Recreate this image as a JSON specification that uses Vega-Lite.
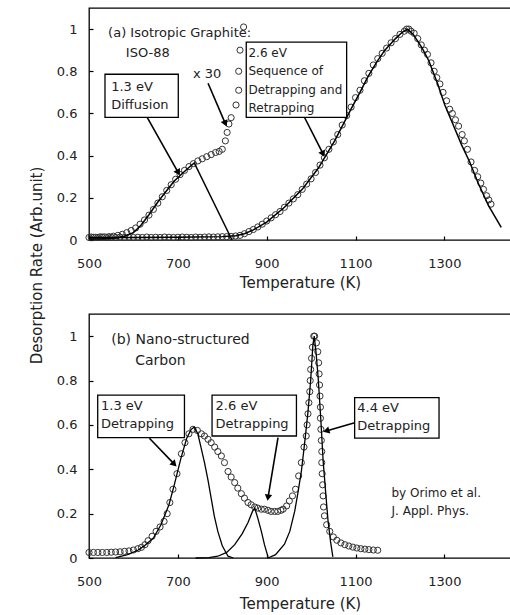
{
  "$schema": "https://vega.github.io/schema/vega-lite/v6.json",
  "padding": {"left": 28, "top": 7, "right": 0, "bottom": 0},
  "background": "white",
  "spacing": 74,
  "bounds": "flush",
  "config": {
    "font": "DejaVu Sans",
    "view": {"stroke": "#000", "strokeWidth": 1.3},
    "axis": {"grid": false, "domain": false, "tickSize": -4, "tickColor": "#000", "tickWidth": 1.2, "labelFlush": false,
      "labelFont": "DejaVu Sans", "labelFontSize": 13, "labelColor": "#222",
      "titleFont": "DejaVu Sans", "titleFontSize": 15, "titleFontWeight": "normal", "titleColor": "#222"},
    "axisX": {"labelPadding": 21, "titlePadding": 5},
    "axisY": {"labelPadding": 16}
  },
  "vconcat": [
    {
      "width": 422,
      "height": 232,
      "encoding": {
        "x": {"field": "T", "type": "quantitative", "scale": {"domain": [500, 1450], "nice": false, "zero": false},
          "axis": {"values": [500, 700, 900, 1100, 1300], "format": "d", "title": "Temperature (K)"}},
        "y": {"field": "rate", "type": "quantitative", "scale": {"domain": [0, 1.1], "nice": false},
          "axis": {"values": [0, 0.2, 0.4, 0.6, 0.8, 1], "format": "~g", "title": "Desorption Rate (Arb.unit)", "titleX": -45, "titleY": 257}}
      },
      "layer": [
        {
          "data": {"values": [
            {"T":500,"rate":0.012},{"T":510,"rate":0.013},{"T":520,"rate":0.012},{"T":530,"rate":0.014},{"T":540,"rate":0.012},{"T":550,"rate":0.013},{"T":560,"rate":0.012},{"T":570,"rate":0.014},{"T":580,"rate":0.012},{"T":590,"rate":0.013},{"T":600,"rate":0.012},{"T":610,"rate":0.013},{"T":620,"rate":0.012},{"T":630,"rate":0.014},{"T":640,"rate":0.012},{"T":650,"rate":0.013},{"T":660,"rate":0.012},{"T":670,"rate":0.014},{"T":680,"rate":0.013},{"T":690,"rate":0.012},{"T":700,"rate":0.013},{"T":710,"rate":0.014},{"T":720,"rate":0.013},{"T":730,"rate":0.012},{"T":740,"rate":0.014},{"T":750,"rate":0.013},{"T":760,"rate":0.014},{"T":770,"rate":0.015},{"T":780,"rate":0.014},{"T":790,"rate":0.015},{"T":800,"rate":0.016},{"T":810,"rate":0.016},{"T":820,"rate":0.017},{"T":830,"rate":0.019},
            {"T":840,"rate":0.022},{"T":850,"rate":0.03},{"T":860,"rate":0.04},{"T":870,"rate":0.05},{"T":880,"rate":0.062},{"T":890,"rate":0.075},{"T":900,"rate":0.09},{"T":910,"rate":0.105},{"T":920,"rate":0.12},{"T":930,"rate":0.135},{"T":940,"rate":0.155},{"T":950,"rate":0.175},{"T":960,"rate":0.195},{"T":970,"rate":0.215},{"T":980,"rate":0.24},{"T":990,"rate":0.265},{"T":1000,"rate":0.29},{"T":1010,"rate":0.32},{"T":1020,"rate":0.355},{"T":1030,"rate":0.39},{"T":1040,"rate":0.43},{"T":1050,"rate":0.465},{"T":1060,"rate":0.5},{"T":1070,"rate":0.545},{"T":1080,"rate":0.59},{"T":1090,"rate":0.63},{"T":1100,"rate":0.675},{"T":1110,"rate":0.71},{"T":1120,"rate":0.755},{"T":1130,"rate":0.79},{"T":1140,"rate":0.83},{"T":1150,"rate":0.86},{"T":1160,"rate":0.885},{"T":1170,"rate":0.91},{"T":1180,"rate":0.935},{"T":1190,"rate":0.955},{"T":1200,"rate":0.975},{"T":1210,"rate":0.99},{"T":1215,"rate":1.0},{"T":1220,"rate":1.0},{"T":1225,"rate":0.99},{"T":1232,"rate":0.98},{"T":1240,"rate":0.955},{"T":1248,"rate":0.925},{"T":1255,"rate":0.9},{"T":1262,"rate":0.88},{"T":1270,"rate":0.84},{"T":1277,"rate":0.8},{"T":1283,"rate":0.77},{"T":1290,"rate":0.74},{"T":1297,"rate":0.7},{"T":1305,"rate":0.66},{"T":1312,"rate":0.62},{"T":1318,"rate":0.6},{"T":1325,"rate":0.57},{"T":1332,"rate":0.54},{"T":1340,"rate":0.5},{"T":1345,"rate":0.47},{"T":1352,"rate":0.43},{"T":1360,"rate":0.37},{"T":1368,"rate":0.33},{"T":1375,"rate":0.3},{"T":1382,"rate":0.27},{"T":1388,"rate":0.24},{"T":1395,"rate":0.21},{"T":1400,"rate":0.19},{"T":1405,"rate":0.17},
            {"T":505,"rate":0.014},{"T":515,"rate":0.013},{"T":525,"rate":0.015},{"T":535,"rate":0.015},{"T":545,"rate":0.016},{"T":555,"rate":0.018},{"T":565,"rate":0.022},{"T":575,"rate":0.027},{"T":585,"rate":0.035},{"T":595,"rate":0.045},{"T":605,"rate":0.057},{"T":615,"rate":0.075},{"T":625,"rate":0.095},{"T":635,"rate":0.118},{"T":645,"rate":0.145},{"T":655,"rate":0.175},{"T":665,"rate":0.205},{"T":675,"rate":0.235},{"T":685,"rate":0.262},{"T":695,"rate":0.288},{"T":705,"rate":0.31},{"T":715,"rate":0.33},{"T":725,"rate":0.348},{"T":735,"rate":0.362},{"T":745,"rate":0.375},{"T":755,"rate":0.385},{"T":765,"rate":0.395},{"T":775,"rate":0.405},{"T":785,"rate":0.415},{"T":793,"rate":0.42},{"T":800,"rate":0.43},{"T":807,"rate":0.47},{"T":811,"rate":0.51},{"T":815,"rate":0.55},{"T":820,"rate":0.58},{"T":831,"rate":0.64},{"T":837,"rate":0.71},{"T":837,"rate":0.8},{"T":840,"rate":0.9},{"T":848,"rate":1.01}
          ]},
          "mark": {"type": "point", "shape": "circle", "size": 38, "filled": false, "stroke": "#333", "strokeWidth": 1, "opacity": 1}
        },
        {
          "data": {"values": [
            {"T":500,"rate":0.005},{"T":530,"rate":0.006},{"T":560,"rate":0.01},{"T":580,"rate":0.018},{"T":600,"rate":0.035},{"T":617,"rate":0.07},{"T":635,"rate":0.12},{"T":655,"rate":0.18},{"T":675,"rate":0.235},{"T":692,"rate":0.28},{"T":710,"rate":0.315},{"T":723,"rate":0.34},{"T":737,"rate":0.365},{"T":822,"rate":0.0}
          ]},
          "mark": {"type": "line", "color": "#000", "strokeWidth": 1.5}
        },
        {
          "data": {"values": [
            {"T":500,"rate":0.012},{"T":600,"rate":0.012},{"T":700,"rate":0.013},{"T":800,"rate":0.016},{"T":830,"rate":0.02},{"T":850,"rate":0.03},{"T":870,"rate":0.048},{"T":900,"rate":0.085},{"T":940,"rate":0.155},{"T":980,"rate":0.24},{"T":1016,"rate":0.34},{"T":1053,"rate":0.47},{"T":1091,"rate":0.625},{"T":1110,"rate":0.7},{"T":1128,"rate":0.775},{"T":1148,"rate":0.845},{"T":1166,"rate":0.9},{"T":1190,"rate":0.955},{"T":1205,"rate":0.985},{"T":1217,"rate":1.0},{"T":1230,"rate":0.975},{"T":1250,"rate":0.91},{"T":1265,"rate":0.85},{"T":1285,"rate":0.74},{"T":1301,"rate":0.64},{"T":1320,"rate":0.545},{"T":1339,"rate":0.45},{"T":1357,"rate":0.37},{"T":1376,"rate":0.27},{"T":1400,"rate":0.16},{"T":1428,"rate":0.06}
          ]},
          "mark": {"type": "line", "color": "#000", "strokeWidth": 1.5}
        },
        {
          "data": {"values": [
            {"T":536,"rate":0.581,"T2":701,"rate2":0.786},
            {"T":854,"rate":0.581,"T2":1080,"rate2":0.938}
          ]},
          "mark": {"type": "rect", "fill": "white", "stroke": "#000", "strokeWidth": 1.3},
          "encoding": {"x2": {"field": "T2"}, "y2": {"field": "rate2"}}
        },
        {
          "data": {"values": [
            {"T":701,"rate":0.319,"T2":631,"rate2":0.581,"angle":150.6},
            {"T":807,"rate":0.552,"T2":768,"rate2":0.743,"angle":156.7},
            {"T":1027,"rate":0.408,"T2":985,"rate2":0.582,"angle":153.2}
          ]},
          "layer": [
            {"mark": {"type": "rule", "color": "#000", "strokeWidth": 1.6}, "encoding": {"x2": {"field": "T2"}, "y2": {"field": "rate2"}}},
            {"mark": {"type": "point", "shape": "triangle-up", "filled": true, "color": "#000", "size": 55, "opacity": 1},
             "encoding": {"angle": {"field": "angle", "type": "quantitative", "scale": null}}}
          ]
        },
        {
          "data": {"values": [
            {"T":543,"rate":0.98,"label":"(a) Isotropic Graphite:"},
            {"T":583,"rate":0.885,"label":"ISO-88"},
            {"T":734,"rate":0.786,"label":"x 30"},
            {"T":550,"rate":0.724,"label":"1.3 eV"},
            {"T":550,"rate":0.638,"label":"Diffusion"}
          ]},
          "mark": {"type": "text", "align": "left", "baseline": "middle", "fontSize": 13, "color": "#222"},
          "encoding": {"text": {"field": "label"}}
        },
        {
          "data": {"values": [
            {"T":859,"rate":0.886,"label":"2.6 eV"},
            {"T":859,"rate":0.799,"label":"Sequence of"},
            {"T":859,"rate":0.713,"label":"Detrapping and"},
            {"T":859,"rate":0.627,"label":"Retrapping"}
          ]},
          "mark": {"type": "text", "align": "left", "baseline": "middle", "fontSize": 12, "color": "#222"},
          "encoding": {"text": {"field": "label"}}
        }
      ]
    },
    {
      "width": 422,
      "height": 244,
      "encoding": {
        "x": {"field": "T", "type": "quantitative", "scale": {"domain": [500, 1450], "nice": false, "zero": false},
          "axis": {"values": [500, 700, 900, 1100, 1300], "format": "d", "title": "Temperature (K)", "titlePadding": 8}},
        "y": {"field": "rate", "type": "quantitative", "scale": {"domain": [0, 1.1], "nice": false},
          "axis": {"values": [0, 0.2, 0.4, 0.6, 0.8, 1], "format": "~g", "title": null}}
      },
      "layer": [
        {
          "data": {"values": [
            {"T":500,"rate":0.025},{"T":510,"rate":0.025},{"T":520,"rate":0.025},{"T":530,"rate":0.025},{"T":540,"rate":0.025},{"T":550,"rate":0.026},{"T":560,"rate":0.027},{"T":570,"rate":0.028},{"T":580,"rate":0.03},{"T":590,"rate":0.032},{"T":600,"rate":0.036},{"T":610,"rate":0.042},{"T":618,"rate":0.048},{"T":626,"rate":0.06},{"T":633,"rate":0.078},{"T":642,"rate":0.098},{"T":651,"rate":0.12},{"T":660,"rate":0.14},{"T":669,"rate":0.165},{"T":676,"rate":0.2},{"T":682,"rate":0.25},{"T":689,"rate":0.31},{"T":698,"rate":0.38},{"T":708,"rate":0.47},{"T":716,"rate":0.52},{"T":725,"rate":0.56},{"T":734,"rate":0.58},{"T":744,"rate":0.575},{"T":753,"rate":0.56},{"T":760,"rate":0.55},{"T":768,"rate":0.535},{"T":775,"rate":0.52},{"T":783,"rate":0.5},{"T":790,"rate":0.48},{"T":798,"rate":0.46},{"T":805,"rate":0.43},{"T":813,"rate":0.39},{"T":820,"rate":0.365},{"T":828,"rate":0.34},{"T":835,"rate":0.315},{"T":843,"rate":0.29},{"T":850,"rate":0.27},{"T":858,"rate":0.25},{"T":865,"rate":0.24},{"T":873,"rate":0.23},{"T":880,"rate":0.225},{"T":888,"rate":0.22},{"T":895,"rate":0.22},{"T":903,"rate":0.215},{"T":910,"rate":0.21},{"T":918,"rate":0.21},{"T":925,"rate":0.21},{"T":932,"rate":0.215},{"T":937,"rate":0.22},{"T":945,"rate":0.235},{"T":951,"rate":0.257},{"T":958,"rate":0.28},{"T":965,"rate":0.31},{"T":972,"rate":0.37},{"T":978,"rate":0.43},{"T":984,"rate":0.5},
            {"T":989,"rate":0.55},{"T":991,"rate":0.6},{"T":993,"rate":0.65},{"T":995,"rate":0.7},{"T":997,"rate":0.75},{"T":998,"rate":0.8},{"T":999,"rate":0.85},{"T":1001,"rate":0.9},{"T":1003,"rate":0.95},{"T":1006,"rate":1.0},{"T":1008,"rate":1.0},{"T":1012,"rate":0.97},{"T":1015,"rate":0.93},{"T":1017,"rate":0.88},{"T":1018,"rate":0.83},{"T":1019,"rate":0.78},{"T":1020,"rate":0.73},{"T":1021,"rate":0.68},{"T":1021,"rate":0.63},{"T":1022,"rate":0.58},{"T":1023,"rate":0.53},{"T":1024,"rate":0.48},{"T":1024,"rate":0.43},{"T":1025,"rate":0.38},{"T":1026,"rate":0.33},{"T":1027,"rate":0.28},{"T":1028,"rate":0.23},{"T":1030,"rate":0.19},{"T":1035,"rate":0.15},{"T":1042,"rate":0.12},{"T":1050,"rate":0.095},{"T":1058,"rate":0.08},{"T":1067,"rate":0.068},{"T":1076,"rate":0.06},{"T":1085,"rate":0.054},{"T":1094,"rate":0.049},{"T":1103,"rate":0.045},{"T":1112,"rate":0.042},{"T":1121,"rate":0.04},{"T":1130,"rate":0.038},{"T":1140,"rate":0.036},{"T":1150,"rate":0.035}
          ]},
          "mark": {"type": "point", "shape": "circle", "size": 38, "filled": false, "stroke": "#333", "strokeWidth": 1, "opacity": 1}
        },
        {
          "data": {"values": [
            {"T":560,"rate":0.002},{"T":587,"rate":0.015},{"T":610,"rate":0.035},{"T":625,"rate":0.055},{"T":645,"rate":0.09},{"T":662,"rate":0.15},{"T":680,"rate":0.24},{"T":692,"rate":0.33},{"T":707,"rate":0.45},{"T":720,"rate":0.54},{"T":730,"rate":0.58},{"T":737,"rate":0.59},{"T":745,"rate":0.56},{"T":752,"rate":0.5},{"T":760,"rate":0.43},{"T":768,"rate":0.35},{"T":775,"rate":0.27},{"T":782,"rate":0.19},{"T":790,"rate":0.12},{"T":800,"rate":0.055},{"T":813,"rate":0.008},{"T":825,"rate":0.0}
          ]},
          "mark": {"type": "line", "color": "#000", "strokeWidth": 1.3}
        },
        {
          "data": {"values": [
            {"T":740,"rate":0.0},{"T":770,"rate":0.002},{"T":790,"rate":0.008},{"T":810,"rate":0.025},{"T":828,"rate":0.06},{"T":845,"rate":0.11},{"T":858,"rate":0.16},{"T":868,"rate":0.21},{"T":873,"rate":0.225},{"T":880,"rate":0.18},{"T":888,"rate":0.12},{"T":895,"rate":0.06},{"T":903,"rate":0.005}
          ]},
          "mark": {"type": "line", "color": "#000", "strokeWidth": 1.3}
        },
        {
          "data": {"values": [
            {"T":903,"rate":0.0},{"T":920,"rate":0.015},{"T":940,"rate":0.062},{"T":952,"rate":0.12},{"T":963,"rate":0.21},{"T":970,"rate":0.29},{"T":978,"rate":0.39},{"T":985,"rate":0.51},{"T":993,"rate":0.66},{"T":999,"rate":0.8},{"T":1004,"rate":0.96},{"T":1007,"rate":1.0},{"T":1011,"rate":0.93},{"T":1016,"rate":0.81},{"T":1022,"rate":0.62},{"T":1027,"rate":0.44},{"T":1033,"rate":0.29},{"T":1038,"rate":0.17},{"T":1044,"rate":0.07},{"T":1049,"rate":0.005}
          ]},
          "mark": {"type": "line", "color": "#000", "strokeWidth": 1.3}
        },
        {
          "data": {"values": [
            {"T":519.6,"rate":0.543,"T2":714.9,"rate2":0.734},
            {"T":777,"rate":0.55,"T2":967,"rate2":0.734},
            {"T":1098,"rate":0.54,"T2":1288,"rate2":0.723}
          ]},
          "mark": {"type": "rect", "fill": "white", "stroke": "#000", "strokeWidth": 1.3},
          "encoding": {"x2": {"field": "T2"}, "y2": {"field": "rate2"}}
        },
        {
          "data": {"values": [
            {"T":692,"rate":0.423,"T2":636,"rate2":0.54,"angle":136.2},
            {"T":903,"rate":0.272,"T2":925.5,"rate2":0.543,"angle":189.5},
            {"T":1034,"rate":0.573,"T2":1098,"rate2":0.61,"angle":253.9}
          ]},
          "layer": [
            {"mark": {"type": "rule", "color": "#000", "strokeWidth": 1.6}, "encoding": {"x2": {"field": "T2"}, "y2": {"field": "rate2"}}},
            {"mark": {"type": "point", "shape": "triangle-up", "filled": true, "color": "#000", "size": 55, "opacity": 1},
             "encoding": {"angle": {"field": "angle", "type": "quantitative", "scale": null}}}
          ]
        },
        {
          "data": {"values": [
            {"T":550,"rate":0.984,"label":"(b) Nano-structured"},
            {"T":604,"rate":0.889,"label":"Carbon"}
          ]},
          "mark": {"type": "text", "align": "left", "baseline": "middle", "fontSize": 14, "color": "#222"},
          "encoding": {"text": {"field": "label"}}
        },
        {
          "data": {"values": [
            {"T":527,"rate":0.686,"label":"1.3 eV"},
            {"T":527,"rate":0.603,"label":"Detrapping"},
            {"T":785,"rate":0.686,"label":"2.6 eV"},
            {"T":785,"rate":0.603,"label":"Detrapping"},
            {"T":1104,"rate":0.678,"label":"4.4 eV"},
            {"T":1104,"rate":0.595,"label":"Detrapping"}
          ]},
          "mark": {"type": "text", "align": "left", "baseline": "middle", "fontSize": 13, "color": "#222"},
          "encoding": {"text": {"field": "label"}}
        },
        {
          "data": {"values": [
            {"T":1181,"rate":0.295,"label":"by Orimo et al."},
            {"T":1181,"rate":0.212,"label":"J. Appl. Phys."}
          ]},
          "mark": {"type": "text", "align": "left", "baseline": "middle", "fontSize": 12, "color": "#222"},
          "encoding": {"text": {"field": "label"}}
        }
      ]
    }
  ]
}
